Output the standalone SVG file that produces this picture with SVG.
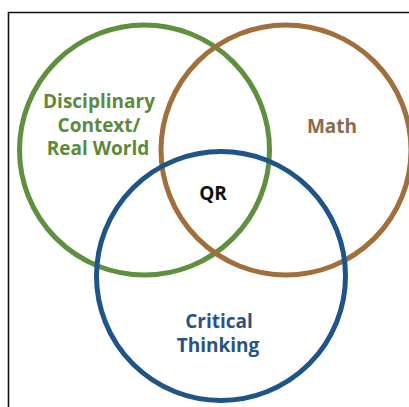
<svg xmlns="http://www.w3.org/2000/svg" width="409" height="407" viewBox="0 0 409 407">
  <style>
    .ring { fill: none; stroke-width: 5; }
    .lbl { font-family: "Open Sans", "Liberation Sans", sans-serif; font-weight: 700; font-size: 19px; text-anchor: middle; }
  </style>
  <rect x="0" y="0" width="409" height="407" fill="#ffffff"/>
  <!-- frame: top and left edges only -->
  <path d="M8.5 407 V12.5 H409" fill="none" stroke="#111111" stroke-width="1.6"/>

  <g id="context">
    <circle class="ring" cx="144.5" cy="150" r="125" stroke="#5f903f"/>
    <text class="lbl" fill="#5c8a3c" x="99" y="108">Disciplinary</text>
    <text class="lbl" fill="#5c8a3c" x="99" y="132">Context/</text>
    <text class="lbl" fill="#5c8a3c" x="98" y="155">Real World</text>
  </g>

  <g id="math">
    <circle class="ring" cx="286" cy="150" r="125" stroke="#a06f3c"/>
    <text class="lbl" fill="#8a6a4c" x="332" y="133">Math</text>
  </g>

  <g id="critical">
    <circle class="ring" cx="221" cy="276" r="124.5" stroke="#1f5488"/>
    <text class="lbl" fill="#2a5282" x="219" y="328">Critical</text>
    <text class="lbl" fill="#2a5282" x="218" y="352">Thinking</text>
  </g>

  <g id="qr">
    <text class="lbl" fill="#111111" x="213" y="200">QR</text>
  </g>
</svg>
